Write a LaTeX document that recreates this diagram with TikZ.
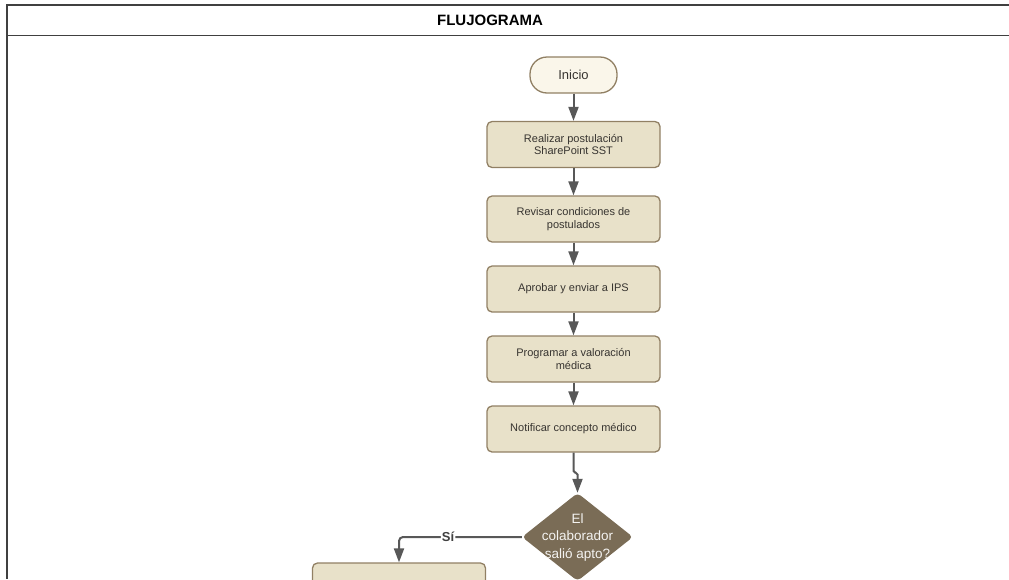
\documentclass[tikz,border=0pt]{standalone}
\usepackage{fontspec}
\setmainfont{Liberation Sans}
\usetikzlibrary{arrows.meta,shapes.geometric}
\definecolor{boxfill}{RGB}{232,225,201}
\definecolor{termfill}{RGB}{250,246,234}
\definecolor{boxline}{RGB}{145,128,100}
\definecolor{decfill}{RGB}{122,108,86}
\definecolor{flowgray}{RGB}{88,88,88}
\definecolor{boxtext}{RGB}{55,52,48}
\begin{document}
\begin{tikzpicture}[x=1pt,y=-1pt,
    tableline/.style={line width=1.8pt,draw=black!75},
    terminal/.style={draw=boxline,line width=1.3pt,fill=termfill,rounded corners=17pt,minimum width=87pt,minimum height=36pt,font=\fontsize{13}{15}\selectfont,text=boxtext},
    process/.style={draw=boxline,line width=1.3pt,fill=boxfill,rounded corners=5pt,minimum width=173pt,minimum height=46pt,align=center,font=\fontsize{11}{12.5}\selectfont,text=boxtext},
    decision/.style={diamond,fill=decfill,minimum width=111pt,minimum height=88pt,inner sep=0pt,rounded corners=4pt},
    flowline/.style={-{Triangle[width=10pt,length=14pt]},line width=2pt,draw=flowgray,rounded corners=4pt}]
    \useasboundingbox (0,0) rectangle (1009,579);
    % Definitions
    \coordinate (IN) at (573.5,75);
    \coordinate (RP) at (573.5,144.5);
    \coordinate (RC) at (573.5,219);
    \coordinate (AE) at (573.5,289);
    \coordinate (PV) at (573.5,359);
    \coordinate (NC) at (573.5,429);
    \coordinate (CA) at (577.5,537);
    \coordinate (SI) at (399,586);
    % Table
    \draw[tableline] (6,5) -- (1009,5);
    \draw[tableline] (7,5) -- (7,579);
    \draw[tableline] (7,35.5) -- (1009,35.5);
    \node(Titulo) at (490,20) [font=\fontsize{15}{17}\selectfont\bfseries] {FLUJOGRAMA};
    % Nodes
    \node(Inic) at (IN) [terminal] {Inicio};
    \node(RePo) at (RP) [process]  {Realizar postulación\\SharePoint SST};
    \node(ReCo) at (RC) [process]  {Revisar condiciones de\\postulados};
    \node(ApEn) at (AE) [process]  {Aprobar y enviar a IPS};
    \node(PrVa) at (PV) [process]  {Programar a valoración\\médica};
    \node(NoCo) at (NC) [process]  {Notificar concepto médico};
    \node(CoAp) at (CA) [decision,label={[align=center,text=white!92!decfill,font=\fontsize{13.5}{17.5}\selectfont]center:El\\colaborador\\salió apto?}] {};
    \node(SiAp) at (SI) [process]  {};
    % Arrows
    \draw[flowline] (Inic) -- (RePo);
    \draw[flowline] (RePo) -- (ReCo);
    \draw[flowline] (ReCo) -- (ApEn);
    \draw[flowline] (ApEn) -- (PrVa);
    \draw[flowline] (PrVa) -- (NoCo);
    \draw[flowline,rounded corners=1.8pt] (NoCo.south) -- ++(0,20) -| (CoAp.north);
    \draw[flowline] (CoAp.west) -| node[pos=0.3,fill=white,inner sep=1pt,text=black!75,font=\fontsize{13}{15}\selectfont\bfseries] {Sí} (SiAp.north);
\end{tikzpicture}
\end{document}
